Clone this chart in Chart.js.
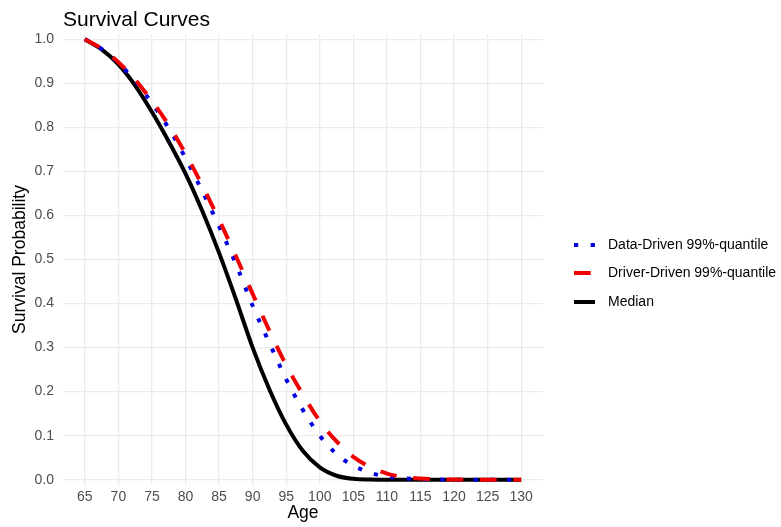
<!DOCTYPE html>
<html>
<head>
<meta charset="utf-8">
<script src="https://cdn.jsdelivr.net/npm/chart.js@4.4.1/dist/chart.umd.min.js"></script>
<style>
  html, body { margin: 0; padding: 0; background: #fff; }
  #wrap { position: relative; width: 781px; height: 527px; }
</style>
</head>
<body>
<div id="wrap"><canvas id="survival-chart"></canvas></div>
<script>
const FONT = "'Liberation Sans', Arial, sans-serif";

// ages sampled every 2.5 years
const ages = [65, 67.5, 70, 72.5, 75, 77.5, 80, 82.5, 85, 87.5, 90, 92.5, 95, 97.5,
  100, 102.5, 105, 107.5, 110, 112.5, 115, 117.5, 120, 122.5, 125, 127.5, 130];

const dataDriven = [1.0, 0.978, 0.946, 0.905, 0.855, 0.798, 0.73, 0.655, 0.575, 0.49, 0.395, 0.31, 0.228, 0.158,
  0.1, 0.058, 0.032, 0.016, 0.007, 0.003, 0.0012, 0.0004, 0, 0, 0, 0, 0];

const driverDriven = [1.0, 0.979, 0.948, 0.908, 0.86, 0.805, 0.74, 0.668, 0.59, 0.508, 0.422, 0.338, 0.26, 0.193,
  0.133, 0.087, 0.052, 0.029, 0.014, 0.006, 0.0025, 0.001, 0.0004, 0, 0, 0, 0];

const median = [1.0, 0.977, 0.943, 0.895, 0.835, 0.768, 0.695, 0.61, 0.515, 0.41, 0.30, 0.205, 0.125, 0.065,
  0.028, 0.009, 0.002, 0.0004, 0, 0, 0, 0, 0, 0, 0, 0, 0];

const xTicks = [65, 70, 75, 80, 85, 90, 95, 100, 105, 110, 115, 120, 125, 130];
const yTicks = [0, 0.1, 0.2, 0.3, 0.4, 0.5, 0.6, 0.7, 0.8, 0.9, 1.0];

const seriesNames = ['Data-Driven 99%-quantile', 'Driver-Driven 99%-quantile', 'Median'];
const seriesColors = ['#0000E0', '#F00000', '#000000'];
const seriesDash = [[4.2, 12.5], [16.7, 16.7], []];

function pts(arr) {
  return ages.map((a, i) => ({ x: a, y: arr[i] }));
}

// title + legend drawn on the canvas, ggplot style
const extras = {
  id: 'extras',
  afterDraw(chart) {
    const c = chart.ctx;
    c.save();
    c.fillStyle = '#000';
    c.font = `21px ${FONT}`;
    c.textAlign = 'left';
    c.textBaseline = 'alphabetic';
    c.fillText('Survival Curves', 63, 26);

    const rows = [245, 273, 302];
    seriesNames.forEach((name, i) => {
      c.beginPath();
      c.strokeStyle = seriesColors[i];
      c.lineWidth = 4;
      c.lineCap = 'butt';
      c.setLineDash(seriesDash[i]);
      c.moveTo(574, rows[i]);
      c.lineTo(595, rows[i]);
      c.stroke();
      c.setLineDash([]);
      c.fillStyle = '#000';
      c.font = `14px ${FONT}`;
      c.textBaseline = 'middle';
      c.fillText(name, 608, rows[i]);
    });
    c.restore();
  }
};

const gridColor = '#EBEBEB';

new Chart(document.getElementById('survival-chart'), {
  type: 'line',
  data: {
    datasets: [
      { label: seriesNames[0], data: pts(dataDriven), borderColor: seriesColors[0], borderDash: seriesDash[0], order: 1 },
      { label: seriesNames[1], data: pts(driverDriven), borderColor: seriesColors[1], borderDash: seriesDash[1], order: 0 },
      { label: seriesNames[2], data: pts(median), borderColor: seriesColors[2], borderDash: seriesDash[2], order: 2 }
    ].map(d => Object.assign(d, {
      borderWidth: 4, pointRadius: 0, fill: false,
      cubicInterpolationMode: 'monotone', borderCapStyle: 'butt'
    }))
  },
  options: {
    responsive: true, maintainAspectRatio: false, animation: false,
    layout: { padding: { top: 34, right: 238, left: 0, bottom: 0 } },
    plugins: { legend: { display: false }, tooltip: { enabled: false } },
    scales: {
      x: {
        type: 'linear', min: 61.75, max: 133.25,
        afterBuildTicks: s => { s.ticks = xTicks.map(v => ({ value: v })); },
        afterFit: s => { s.height = 42; },
        grid: { color: gridColor, lineWidth: 1.3, drawTicks: false },
        border: { display: false },
        ticks: { color: '#4D4D4D', font: { family: FONT, size: 14 }, padding: 4, maxRotation: 0, autoSkip: false },
        title: { display: true, text: 'Age', color: '#000', font: { family: FONT, size: 17.5 }, padding: { top: 0, bottom: 3 } }
      },
      y: {
        min: -0.012, max: 1.012,
        afterBuildTicks: s => { s.ticks = yTicks.map(v => ({ value: v })); },
        afterFit: s => { s.width = 63; },
        grid: { color: gridColor, lineWidth: 1.3, drawTicks: false },
        border: { display: false },
        ticks: { color: '#4D4D4D', font: { family: FONT, size: 14 }, padding: 9, callback: v => v.toFixed(1) },
        title: { display: true, text: 'Survival Probability', color: '#000', font: { family: FONT, size: 17.5 }, padding: { top: 10, bottom: 0 } }
      }
    }
  },
  plugins: [extras]
});
</script>
</body>
</html>
